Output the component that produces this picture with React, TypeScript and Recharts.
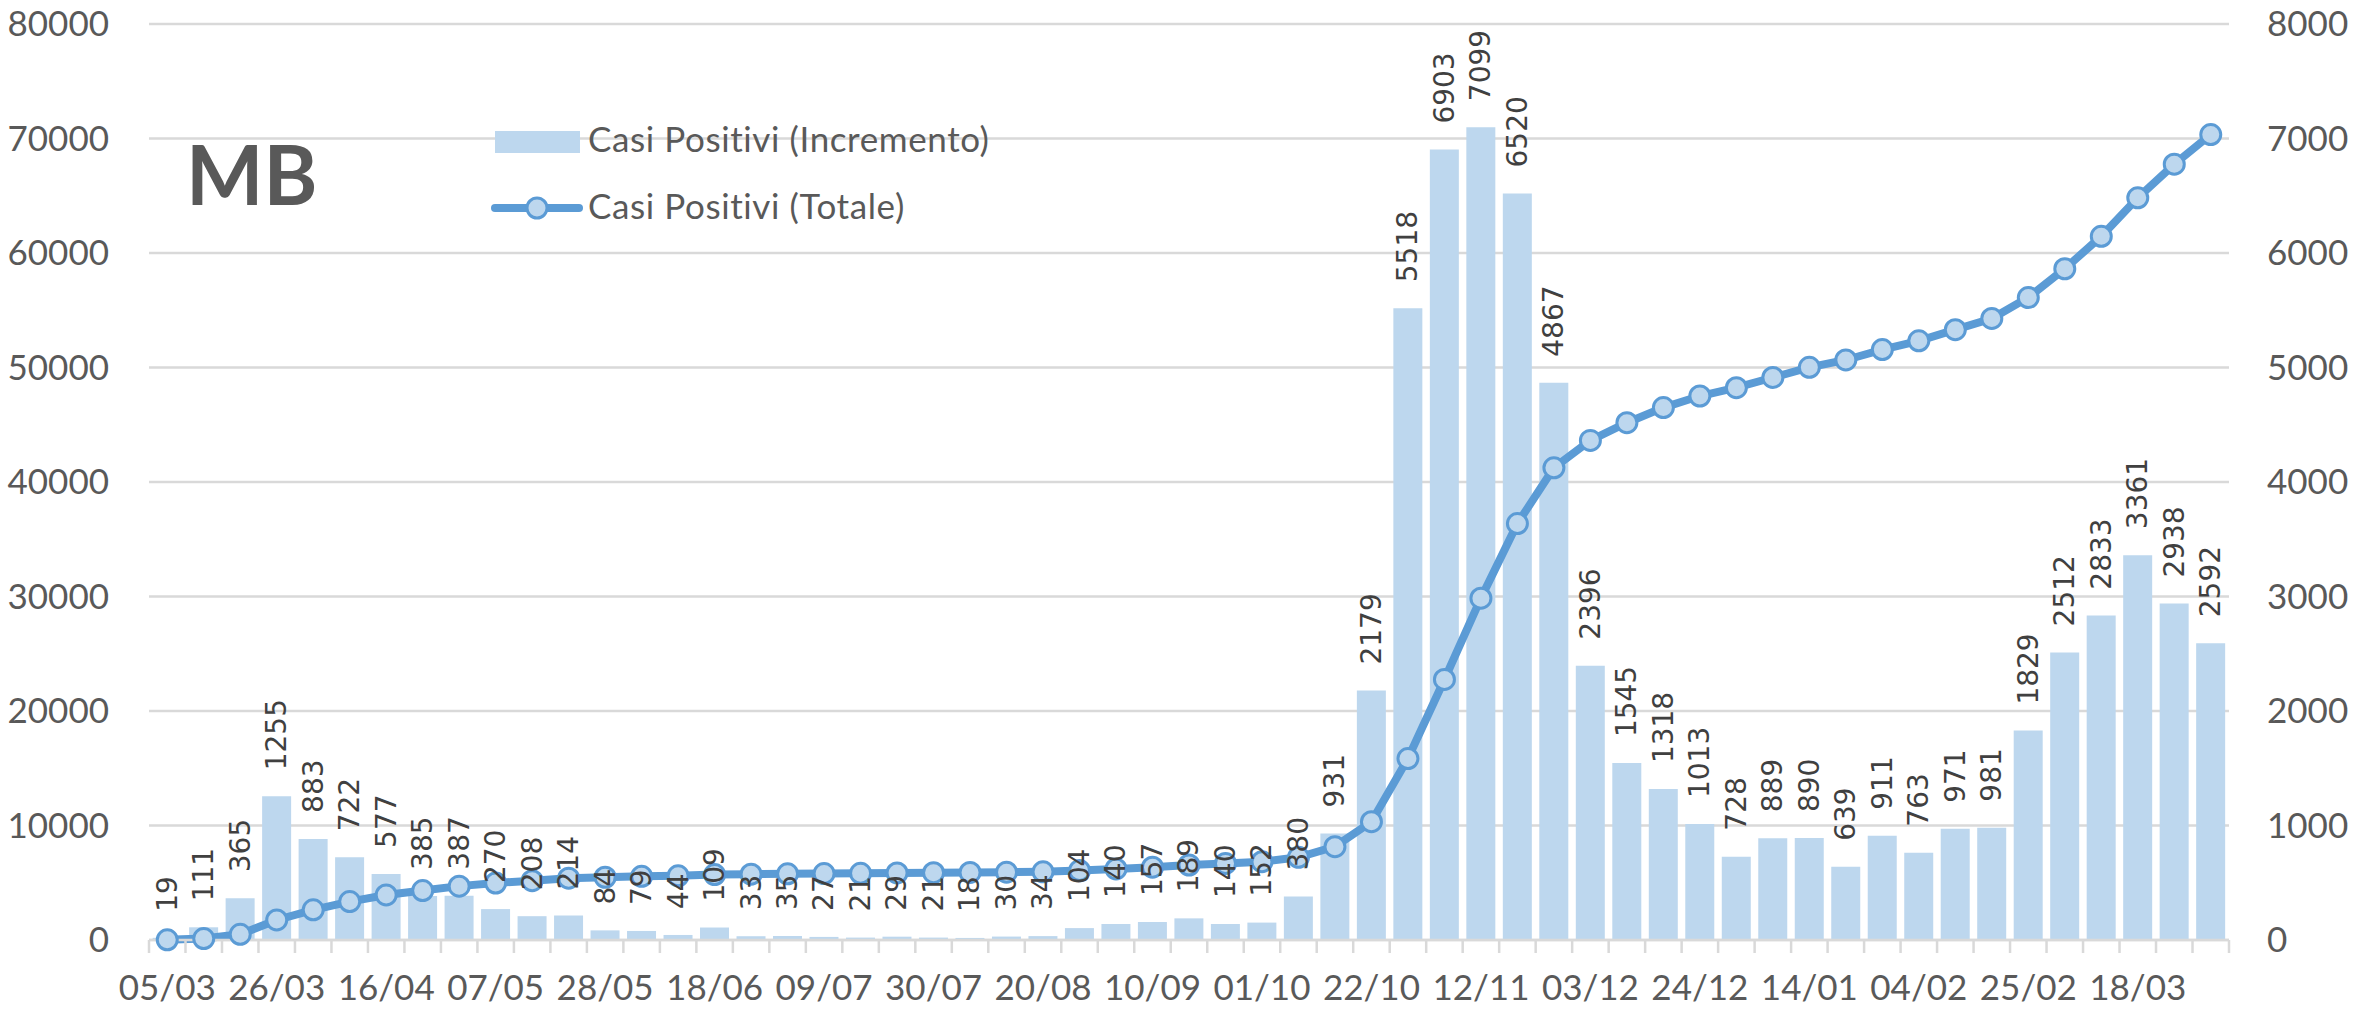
import React from 'react';
import {
  ComposedChart,
  Bar,
  Line,
  XAxis,
  YAxis,
  CartesianGrid,
  LabelList,
} from 'recharts';

const weeks = [
  '05/03', '12/03', '19/03', '26/03', '02/04', '09/04', '16/04', '23/04', '30/04', '07/05',
  '14/05', '21/05', '28/05', '04/06', '11/06', '18/06', '25/06', '02/07', '09/07', '16/07',
  '23/07', '30/07', '06/08', '13/08', '20/08', '27/08', '03/09', '10/09', '17/09', '24/09',
  '01/10', '08/10', '15/10', '22/10', '29/10', '05/11', '12/11', '19/11', '26/11', '03/12',
  '10/12', '17/12', '24/12', '31/12', '07/01', '14/01', '21/01', '28/01', '04/02', '11/02',
  '18/02', '25/02', '04/03', '11/03', '18/03', '25/03', '01/04',
];

// Casi Positivi (Incremento) - weekly new cases, right axis
const increments = [
  19, 111, 365, 1255, 883, 722, 577, 385, 387, 270,
  208, 214, 84, 79, 44, 109, 33, 35, 27, 21,
  29, 21, 18, 30, 34, 104, 140, 157, 189, 140,
  152, 380, 931, 2179, 5518, 6903, 7099, 6520, 4867, 2396,
  1545, 1318, 1013, 728, 889, 890, 639, 911, 763, 971,
  981, 1829, 2512, 2833, 3361, 2938, 2592,
];

// Casi Positivi (Totale) - running total, left axis
const totals = [
  19, 130, 495, 1750, 2633, 3355, 3932, 4317, 4704, 4974,
  5182, 5396, 5480, 5559, 5603, 5712, 5745, 5780, 5807, 5828,
  5857, 5878, 5896, 5926, 5960, 6064, 6204, 6361, 6550, 6690,
  6842, 7222, 8153, 10332, 15850, 22753, 29852, 36372, 41239, 43635,
  45180, 46498, 47511, 48239, 49128, 50018, 50657, 51568, 52331, 53302,
  54283, 56112, 58624, 61457, 64818, 67756, 70348,
];

const leftTicks = [0, 10000, 20000, 30000, 40000, 50000, 60000, 70000, 80000];
const rightTicks = [0, 1000, 2000, 3000, 4000, 5000, 6000, 7000, 8000];

const data = weeks.map((w, i) => ({ week: w, inc: increments[i], tot: totals[i] }));

const W = 2374;
const H = 1009;
const PLOT_LEFT = 149;
const PLOT_RIGHT = 2229;
const PLOT_TOP = 24;
const PLOT_BOTTOM = 940;
const BAND = (PLOT_RIGHT - PLOT_LEFT) / weeks.length;

const GRID = '#D9D9D9';
const TEXT = '#595959';
const BAR = '#BDD7EE';
const LINE = '#5B9BD5';
const AXIS_FONT = 'Lato, "Open Sans", sans-serif';

function XTick(props: any) {
  const { x, y, payload, index } = props;
  const i = index ?? payload?.index ?? 0;
  return (
    <g>
      <line x1={x - BAND / 2} x2={x - BAND / 2} y1={y} y2={y + 13} stroke={GRID} strokeWidth={2.5} />
      {i === weeks.length - 1 && (
        <line x1={x + BAND / 2} x2={x + BAND / 2} y1={y} y2={y + 13} stroke={GRID} strokeWidth={2.5} />
      )}
      {i % 3 === 0 && (
        <text x={x} y={y + 60} textAnchor="middle" fill={TEXT} fontSize={35} fontFamily={AXIS_FONT}>
          {payload.value}
        </text>
      )}
    </g>
  );
}

function BarLabel(props: any) {
  const { x, y, width, value } = props;
  const cx = x + width / 2;
  const cy = y - 26;
  return (
    <text
      x={cx}
      y={cy}
      transform={`rotate(-90 ${cx} ${cy})`}
      textAnchor="start"
      dominantBaseline="central"
      fill="#404040"
      fontSize={28}
      fontFamily='"DejaVu Sans", sans-serif'
    >
      {value}
    </text>
  );
}

export default function App() {
  return (
    <div style={{ position: 'absolute', left: 0, top: 0, width: W, height: H, background: '#fff' }}>
      <ComposedChart
        width={W}
        height={H}
        data={data}
        margin={{ top: PLOT_TOP, right: 0, bottom: 0, left: 0 }}
        barCategoryGap="10%"
      >
        <CartesianGrid yAxisId="left" vertical={false} stroke={GRID} strokeWidth={2.5} />
        <XAxis
          dataKey="week"
          interval={0}
          height={H - PLOT_BOTTOM}
          tickLine={false}
          tickSize={0}
          tickMargin={0}
          axisLine={{ stroke: GRID, strokeWidth: 2.5 }}
          tick={<XTick />}
        />
        <YAxis
          yAxisId="left"
          orientation="left"
          width={PLOT_LEFT}
          domain={[0, 80000]}
          ticks={leftTicks}
          axisLine={false}
          tickLine={false}
          tickSize={0}
          tickMargin={40}
          tick={{ fill: TEXT, fontSize: 35, fontFamily: AXIS_FONT }}
        />
        <YAxis
          yAxisId="right"
          orientation="right"
          width={W - PLOT_RIGHT}
          domain={[0, 8000]}
          ticks={rightTicks}
          axisLine={false}
          tickLine={false}
          tickSize={0}
          tickMargin={38}
          tick={{ fill: TEXT, fontSize: 35, fontFamily: AXIS_FONT }}
        />
        <Bar yAxisId="right" dataKey="inc" fill={BAR} isAnimationActive={false}>
          <LabelList dataKey="inc" content={<BarLabel />} />
        </Bar>
        <Line
          yAxisId="left"
          type="linear"
          dataKey="tot"
          stroke={LINE}
          strokeWidth={8}
          dot={{ r: 10, fill: BAR, stroke: LINE, strokeWidth: 3 }}
          isAnimationActive={false}
        />
      </ComposedChart>

      <svg
        width={W}
        height={H}
        style={{ position: 'absolute', left: 0, top: 0, pointerEvents: 'none' }}
      >
        <text x={186} y={205} fill={TEXT} fontSize={82} fontWeight="bold" fontFamily={AXIS_FONT}>
          MB
        </text>
        <rect x={495} y={131} width={85} height={22} fill={BAR} />
        <text x={588} y={152} fill={TEXT} fontSize={35} letterSpacing={0.6} fontFamily={AXIS_FONT}>
          Casi Positivi (Incremento)
        </text>
        <line x1={495} x2={579} y1={208} y2={208} stroke={LINE} strokeWidth={8} strokeLinecap="round" />
        <circle cx={537} cy={208} r={10} fill={BAR} stroke={LINE} strokeWidth={3} />
        <text x={588} y={219} fill={TEXT} fontSize={35} letterSpacing={0.6} fontFamily={AXIS_FONT}>
          Casi Positivi (Totale)
        </text>
      </svg>
    </div>
  );
}
